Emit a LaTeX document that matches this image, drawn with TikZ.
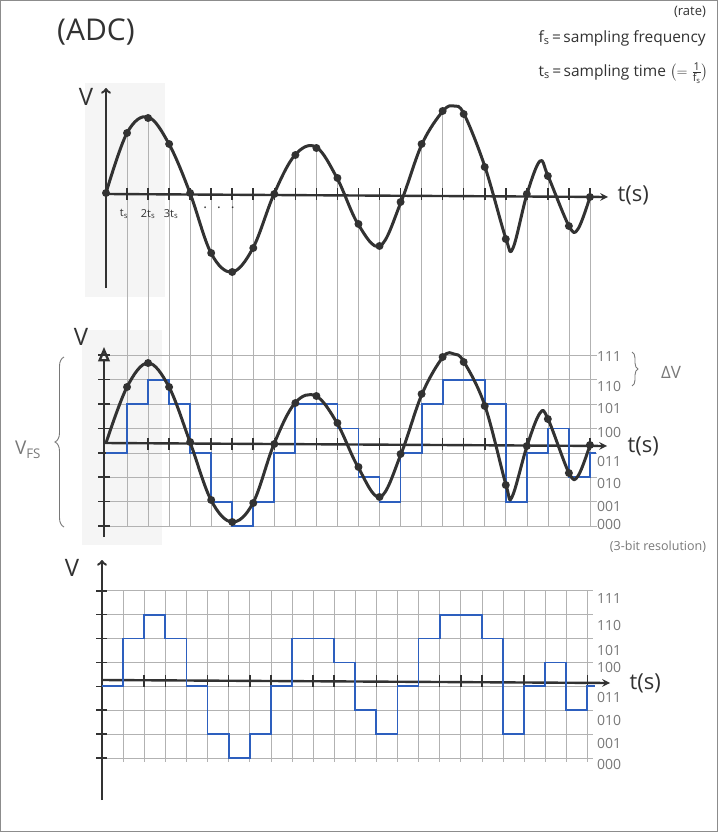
\documentclass[tikz,border=0pt]{standalone}
\usepackage{fontspec}
\setmainfont{Open Sans}
\usepackage{tikz}
\usetikzlibrary{arrows,decorations.pathreplacing}
\usepackage{amsmath}

\definecolor{wave}{RGB}{50,50,50}
\definecolor{quant}{RGB}{45,95,190}
\definecolor{codegray}{RGB}{120,120,120}

\tikzset{
  axisline/.style={line width=2.4pt, wave},
  tickline/.style={line width=1.6pt, wave},
  wavecurve/.style={line width=3pt, wave, line join=round},
  quantline/.style={line width=1.8pt, quant},
  gridline/.style={line width=0.6pt, black!30},
  codelabel/.style={codegray, font=\fontsize{14}{14}\selectfont},
  bigtext/.style={wave, font=\fontsize{22}{22}\selectfont},
}

\def\xo{106}
\def\dx{21.04}
\def\xb{102}
\def\db{21.1}

\begin{document}
\begin{tikzpicture}[x=1pt,y=-1pt]
\useasboundingbox (0,0) rectangle (718,832);
\draw[black!45] (0.5,0.5) rectangle (717.5,831.5);

% paper shading
\fill[black!4] (85,83) rectangle (165,297);
\fill[black!4] (82,330) rectangle (162,545);

% title and notes
\node[wave, font=\fontsize{30}{30}\selectfont] (title) at (96,32) {(ADC)};
\node[wave, font=\fontsize{13}{13}\selectfont] (rate) at (690,12) {(rate)};
\node[wave, anchor=west, font=\fontsize{15.5}{15.5}\selectfont] (fsnote) at (535,38) {f\textsubscript{s}\,=\,sampling frequency};
\node[wave, anchor=west, font=\fontsize{15.5}{15.5}\selectfont] (tsnote) at (535,73) {t\textsubscript{s}\,=\,sampling time $\bigl(=\tfrac{\text{1}}{\text{f}_{\text{s}}}\bigr)$};

% sampling lines, top -> middle
\foreach \k/\y in {1/133,2/118,3/144,4/193,5/253,6/272,7/248,8/194,9/155,10/148,11/178,12/224,
                   13/246,14/202,15/144,16/111,17/114,18/167,19/239,20/194,21/176,22/226,23/197}
  \draw[gridline] ({\xo+\k*\dx},{min(\y,194)}) -- ({\xo+\k*\dx},526);

%%% top panel: analog signal
\draw[axisline,->] (\xo,288) -- (\xo,88);
\draw[axisline,-stealth] (\xo,194) -- (608,197);
\foreach \k in {1,...,23}
  \draw[tickline] ({\xo+\k*\dx},188) -- ({\xo+\k*\dx},200);
\node[wave, font=\fontsize{24}{24}\selectfont] (vtop) at (86,97) {V};
\node[bigtext, anchor=west] (ttop) at (614,195) {t(s)};
\node[wave, font=\fontsize{11}{11}\selectfont] (t1) at (124,214) {t\textsubscript{s}};
\node[wave, font=\fontsize{11}{11}\selectfont] (t2) at (148,214) {2t\textsubscript{s}};
\node[wave, font=\fontsize{11}{11}\selectfont] (t3) at (171,214) {3t\textsubscript{s}};
\node[wave, font=\fontsize{14}{14}\selectfont] (tdots) at (219,208) {.\hspace{10pt}.\hspace{10pt}.};

\draw[wavecurve] plot[smooth, tension=0.6] coordinates {
  (106,193) (127,133) (148,117) (169,144) (190,193) (211,253) (232,272) (253,248)
  (274,194) (295,155) (316,147) (337,178) (358,224) (380,246) (401,202) (422,144)
  (443,111) (454,106) (464,114) (485,167) (506,239) (513,248) (527,194) (540,161)
  (548,176) (569,226) (578,229) (590,197)};
\foreach \k/\y in {0/193,1/133,2/118,3/144,4/193,5/253,6/272,7/248,8/194,9/155,10/148,11/178,12/224,
                   13/246,14/202,15/144,16/111,17/114,18/167,19/239,20/194,21/176,22/226,23/197}
  \fill[wave] ({\xo+\k*\dx},\y) circle (4pt);

%%% middle panel: signal and quantized levels
\foreach \j in {0,...,7}
  \draw[gridline] (104,{526-24.4*\j}) -- (597,{526-24.4*\j});
\foreach \code/\y in {000/524,001/506,010/483,011/461,100/432,101/408,110/386,111/356}
  \node[codelabel] at (609,\y) {\code};
\draw[axisline,-open triangle 45] (104,537) -- (104,347);
\foreach \j in {0,...,7}
  \draw[tickline] (98,{526-24.4*\j}) -- (110,{526-24.4*\j});
\draw[axisline,-stealth] (104,443) -- (607,446);
\foreach \k in {1,...,23}
  \draw[tickline] ({\xo+\k*\dx},438) -- ({\xo+\k*\dx},450);

\draw[quantline] (\xo,{526-24.4*3})
  \foreach \c [count=\k, remember=\c as \p (initially 3)] in {5,6,5,3,1,0,1,3,5,5,4,2,1,3,5,6,6,5,1,3,4,2,3}
  { -- ({\xo+\k*\dx},{526-24.4*\p}) -- ({\xo+\k*\dx},{526-24.4*\c}) } -- ++(6,0);

\draw[wavecurve] plot[smooth, tension=0.6] coordinates {
  (106,443) (127,387) (148,363) (169,387) (190,442) (211,500) (232,522) (253,503)
  (274,444) (295,403) (316,396) (337,423) (358,467) (380,497) (401,454) (422,394)
  (443,357) (454,354) (464,362) (485,406) (506,485) (512,497) (527,446) (540,413)
  (548,419) (569,473) (578,476) (590,445)};
\foreach \k/\y in {1/387,2/363,3/387,4/442,5/500,6/522,7/503,8/444,9/403,10/396,11/423,12/467,
                   13/497,14/454,15/394,16/357,17/362,18/406,19/485,20/446,21/419,22/473,23/445}
  \fill[wave] ({\xo+\k*\dx},\y) circle (4pt);

\node[wave, font=\fontsize{24}{24}\selectfont] (vmid) at (81,337) {V};
\node[bigtext, anchor=west] (tmid) at (624,446) {t(s)};
\draw[codegray, line width=0.9pt, decorate, decoration={brace, amplitude=9pt}] (64,527) -- (64,357);
\node[codegray, font=\fontsize{19}{19}\selectfont] (vfs) at (28,450) {V\textsubscript{FS}};
\draw[codegray, line width=0.9pt, decorate, decoration={brace, amplitude=6pt}] (632,352) -- (632,386);
\node[codegray, font=\fontsize{17}{17}\selectfont] (dv) at (671,372) {ΔV};
\node[codegray, font=\fontsize{12.5}{12.5}\selectfont] (bits) at (658,547) {(3-bit resolution)};

%%% bottom panel: digital output
\foreach \j in {0,...,7}
  \draw[gridline] (\xb,{758-23.9*\j}) -- (593,{758-23.9*\j});
\foreach \k in {1,...,23}
  \draw[gridline] ({\xb+\k*\db},591) -- ({\xb+\k*\db},762);
\foreach \code/\y in {000/764,001/743,010/720,011/697,100/667,101/650,110/625,111/598}
  \node[codelabel] at (609,\y) {\code};
\draw[axisline,->] (\xb,800) -- (\xb,560);
\foreach \j in {0,...,7}
  \draw[tickline] (96,{758-23.9*\j}) -- (107,{758-23.9*\j});
\draw[axisline,-stealth] (\xb,680) -- (610,683);
\foreach \k in {1,...,23}
  \draw[tickline] ({\xb+\k*\db},675) -- ({\xb+\k*\db},687);

\draw[quantline] (\xb,{758-23.9*3})
  \foreach \c [count=\k, remember=\c as \p (initially 3)] in {5,6,5,3,1,0,1,3,5,5,4,2,1,3,5,6,6,5,1,3,4,2,3}
  { -- ({\xb+\k*\db},{758-23.9*\p}) -- ({\xb+\k*\db},{758-23.9*\c}) } -- ++(8,0);

\node[wave, font=\fontsize{24}{24}\selectfont] (vbot) at (72,568) {V};
\node[bigtext, anchor=west] (tbot) at (626,683) {t(s)};
\end{tikzpicture}
\end{document}
